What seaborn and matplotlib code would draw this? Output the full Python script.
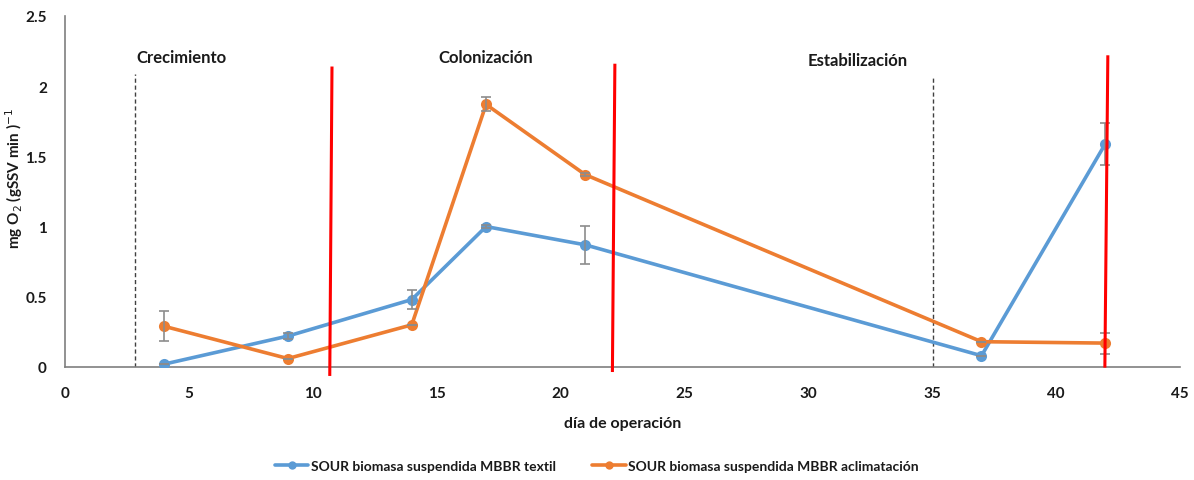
import numpy as np
import pandas as pd
import matplotlib
matplotlib.use("Agg")
import matplotlib.pyplot as plt
import seaborn as sns
from matplotlib.lines import Line2D

# Operation days and SOUR measurements
dias = [4, 9, 14, 17, 21, 37, 42]
sour_textil = [0.02, 0.22, 0.48, 1.00, 0.87, 0.08, 1.59]
err_textil = [0.0, 0.02, 0.07, 0.01, 0.137, 0.0, 0.15]
sour_aclim = [0.29, 0.06, 0.30, 1.87, 1.37, 0.18, 0.17]
err_aclim = [0.107, 0.0, 0.0, 0.05, 0.01, 0.0, 0.075]

serie_textil = "SOUR biomasa suspendida MBBR textil"
serie_aclim = "SOUR biomasa suspendida MBBR aclimatación"

# Phase labels and separators
fases = ["Crecimiento", "Colonización", "Estabilización"]
fase_x = [2.9, 17.0, 32.0]
fase_y = [2.21, 2.21, 2.19]
sep_dash_x = [2.82, 35.04]
sep_dash_top = [2.09, 2.07]
red_x_top = [10.78, 22.2, 42.1]
red_x_bot = [10.69, 22.1, 41.98]
red_y_top = [2.14, 2.16, 2.22]
red_y_bot = [-0.064, -0.036, -0.005]

c_blue = "#5B9BD5"
c_orange = "#ED7D31"

sns.set_theme(style="white")
plt.rcParams["font.family"] = ["Lato", "DejaVu Sans"]

df = pd.DataFrame({
    "dia": dias * 2,
    "sour": sour_textil + sour_aclim,
    "serie": [serie_textil] * len(dias) + [serie_aclim] * len(dias),
})

fig = plt.figure(figsize=(11.94, 4.81), dpi=100)
ax = fig.add_axes([0.0544, 0.235, 0.9336, 0.7297])

sns.lineplot(data=df, x="dia", y="sour", hue="serie",
             palette=[c_blue, c_orange], marker="o", markersize=8,
             markeredgewidth=0, linewidth=2.6, ax=ax, legend=False,
             sort=False, zorder=3)

ax.errorbar(dias, sour_textil, yerr=err_textil, fmt="none", ecolor="#8c8c8c",
            elinewidth=1.2, capsize=3.5, capthick=1.2, zorder=4)
ax.errorbar(dias, sour_aclim, yerr=err_aclim, fmt="none", ecolor="#8c8c8c",
            elinewidth=1.2, capsize=3.5, capthick=1.2, zorder=4)

for x, top in zip(sep_dash_x, sep_dash_top):
    ax.plot([x, x], [0, top], color="#404040", linestyle=(0, (3, 2)),
            linewidth=1.0, zorder=2)

for xt, xb, yt, yb in zip(red_x_top, red_x_bot, red_y_top, red_y_bot):
    ax.plot([xb, xt], [yb, yt], color="#FF0000", linewidth=2.2,
            zorder=5, clip_on=False, solid_capstyle="butt")

for name, x, y, ha in zip(fases, fase_x, fase_y, ["left", "center", "center"]):
    ax.text(x, y, name, ha=ha, va="center", fontsize=12, fontweight="bold",
            color="#1a1a1a")

ax.set_xlim(0, 45)
ax.set_ylim(0, 2.5)
ax.set_xticks(np.arange(0, 46, 5))
ax.set_yticks([0, 0.5, 1, 1.5, 2, 2.5])
ax.set_xticklabels([str(v) for v in range(0, 46, 5)])
ax.set_yticklabels(["0", "0.5", "1", "1.5", "2", "2.5"])
ax.tick_params(axis="x", length=0, labelsize=11, colors="#1a1a1a", pad=14)
ax.tick_params(axis="y", length=0, labelsize=11, colors="#1a1a1a", pad=13)
for lab in ax.get_xticklabels() + ax.get_yticklabels():
    lab.set_fontweight("bold")

ax.set_xlabel("día de operación", fontsize=11.5, fontweight="bold",
              color="#1a1a1a")
ax.xaxis.set_label_coords(0.5, -0.14)
ax.set_ylabel(r"mg O$_2$ (gSSV min )$^{-1}$", fontsize=11, fontweight="bold",
              color="#1a1a1a")
ax.yaxis.set_label_coords(-0.036, 0.54)

for side in ["top", "right"]:
    ax.spines[side].set_visible(False)
for side in ["left", "bottom"]:
    ax.spines[side].set_color("#7f7f7f")
    ax.spines[side].set_linewidth(1.2)

handles = [
    Line2D([], [], color=c_blue, marker="o", markersize=6, markeredgewidth=0,
           linewidth=2.6, label=serie_textil),
    Line2D([], [], color=c_orange, marker="o", markersize=6, markeredgewidth=0,
           linewidth=2.6, label=serie_aclim),
]
leg = fig.legend(handles=handles, loc="center", bbox_to_anchor=(0.5, 0.03),
                 ncol=2, frameon=False, fontsize=10, handlelength=2.4,
                 handletextpad=0.2, columnspacing=2.6)
for t in leg.get_texts():
    t.set_fontweight("bold")
    t.set_color("#1a1a1a")

fig.savefig("out.png", dpi=100)
